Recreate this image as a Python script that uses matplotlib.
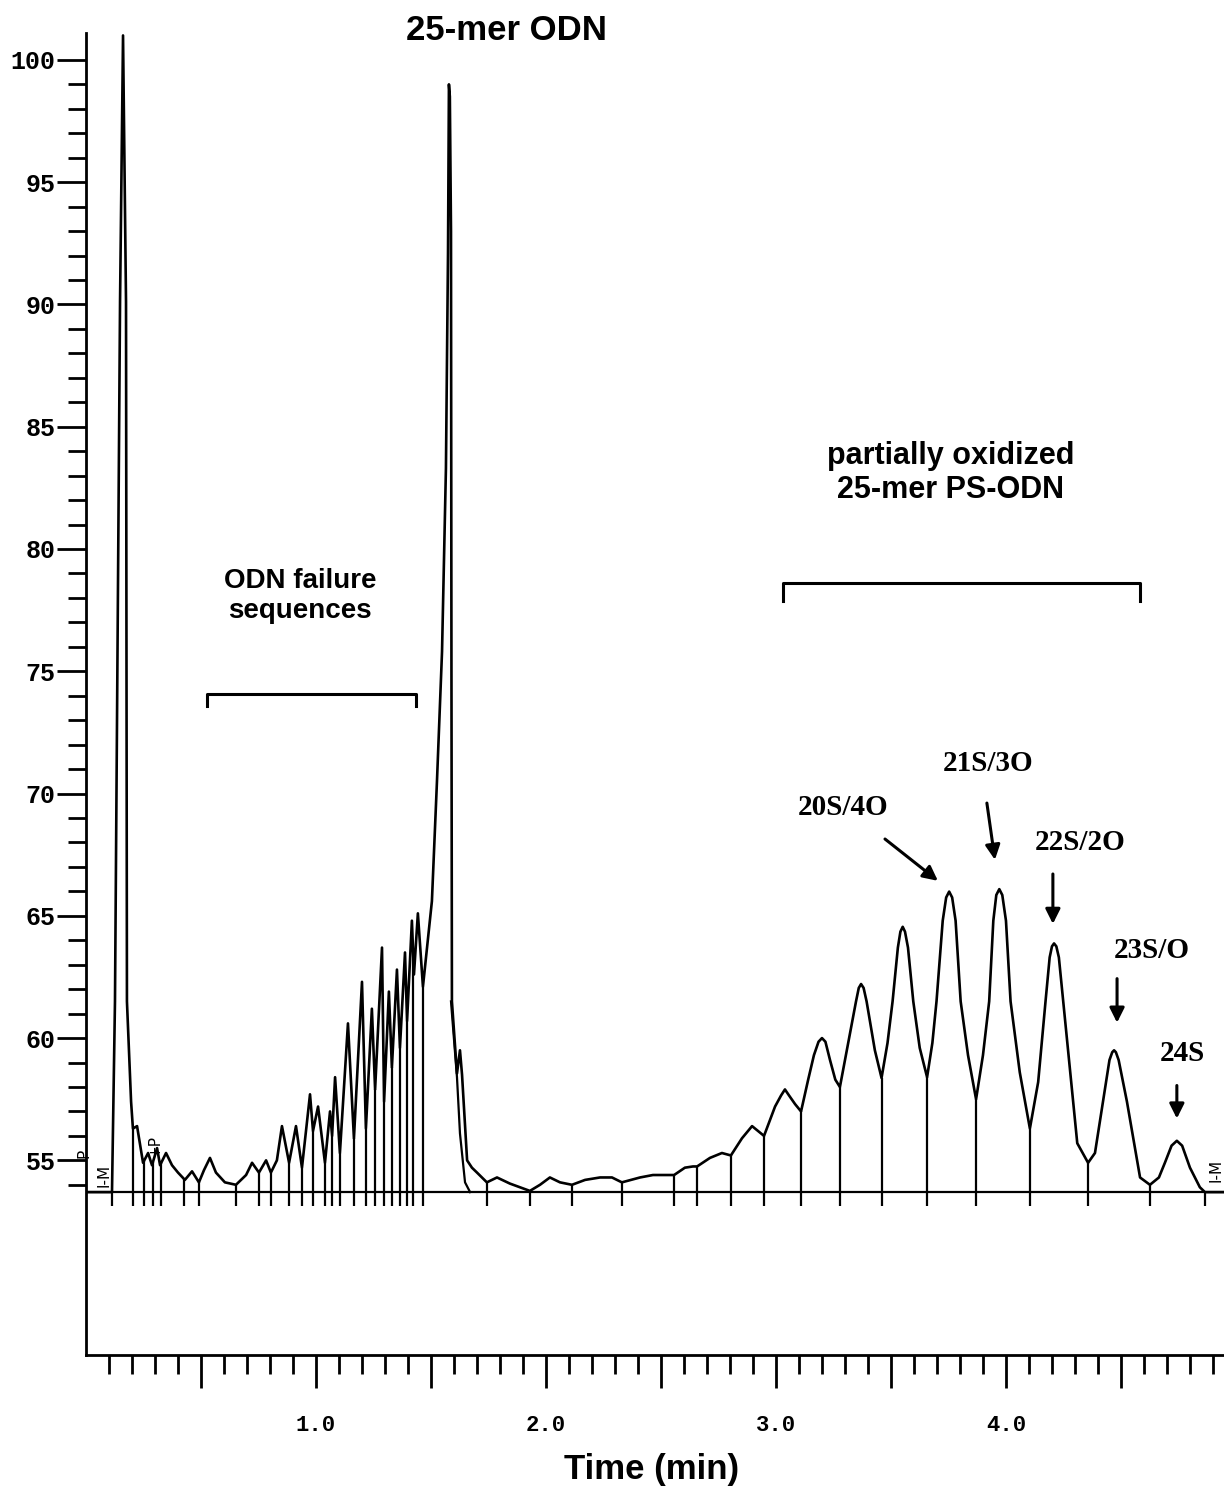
import matplotlib.pyplot as plt
import numpy as np

# chromatogram trace: time (min) and detector signal
time = [0.000, 0.113, 0.126, 0.148, 0.161, 0.174, 0.178, 0.196, 0.204, 0.222,
        0.248, 0.270, 0.287, 0.309, 0.322, 0.348, 0.374, 0.400, 0.430, 0.461,
        0.491, 0.513, 0.539, 0.565, 0.604, 0.652, 0.696, 0.722, 0.752, 0.783,
        0.804, 0.830, 0.852, 0.883, 0.913, 0.939, 0.974, 0.987, 1.009, 1.039,
        1.061, 1.070, 1.083, 1.104, 1.139, 1.165, 1.200, 1.217, 1.243, 1.257,
        1.287, 1.296, 1.317, 1.330, 1.352, 1.365, 1.387, 1.396, 1.417, 1.426,
        1.443, 1.465, 1.504, 1.526, 1.548, 1.565, 1.574, 1.578, 1.582, 1.587,
        1.589, 1.591, 1.613, 1.626, 1.635, 1.657, 1.678, 1.700, 1.743, 1.787,
        1.843, 1.930, 1.974, 2.017, 2.061, 2.113, 2.170, 2.235, 2.287, 2.330,
        2.409, 2.465, 2.557, 2.604, 2.639, 2.657, 2.713, 2.765, 2.804, 2.852,
        2.896, 2.922, 2.948, 2.996, 3.022, 3.039, 3.057, 3.083, 3.109, 3.140,
        3.165, 3.185, 3.200, 3.215, 3.235, 3.258, 3.278, 3.310, 3.348, 3.360,
        3.370, 3.381, 3.394, 3.430, 3.459, 3.485, 3.507, 3.530, 3.541, 3.551,
        3.561, 3.574, 3.597, 3.625, 3.657, 3.680, 3.698, 3.725, 3.740, 3.753,
        3.766, 3.781, 3.803, 3.835, 3.870, 3.900, 3.927, 3.945, 3.958, 3.971,
        3.984, 4.000, 4.020, 4.060, 4.104, 4.140, 4.172, 4.190, 4.200, 4.209,
        4.219, 4.230, 4.249, 4.310, 4.357, 4.387, 4.422, 4.450, 4.462, 4.470,
        4.478, 4.490, 4.526, 4.583, 4.626, 4.665, 4.691, 4.720, 4.743, 4.766,
        4.800, 4.843, 4.865, 4.948]
signal = [53.7, 53.7, 61.5, 90.1, 101.0, 90.1, 61.5, 57.4, 56.3, 56.4,
          54.9, 55.3, 54.8, 55.5, 54.8, 55.3, 54.8, 54.5, 54.2, 54.55,
          54.1, 54.6, 55.1, 54.5, 54.1, 54.0, 54.4, 54.9, 54.5, 55.0,
          54.5, 55.0, 56.4, 54.9, 56.4, 54.7, 57.7, 56.2, 57.2, 54.9,
          57.0, 56.0, 58.4, 55.3, 60.6, 55.9, 62.3, 56.3, 61.2, 57.9,
          63.7, 57.4, 61.9, 58.8, 62.8, 59.6, 63.5, 60.7, 64.8, 62.6,
          65.1, 62.1, 65.6, 70.5, 75.8, 83.3, 92.1, 99.0, 98.5, 93.0,
          75.0, 61.5, 58.55, 59.5, 58.5, 55.0, 54.7, 54.5, 54.1, 54.3,
          54.05, 53.75, 54.0, 54.3, 54.1, 54.0, 54.2, 54.3, 54.3, 54.1,
          54.3, 54.4, 54.4, 54.7, 54.75, 54.75, 55.1, 55.3, 55.2, 55.9,
          56.4, 56.2, 56.0, 57.2, 57.65, 57.9, 57.65, 57.3, 57.0, 58.3,
          59.3, 59.85, 60.0, 59.85, 59.1, 58.3, 58.0, 59.6, 61.5, 62.05,
          62.21, 62.05, 61.5, 59.5, 58.37, 59.8, 61.5, 63.7, 64.35, 64.55,
          64.35, 63.7, 61.5, 59.6, 58.4, 59.8, 61.5, 64.8, 65.75, 65.99,
          65.75, 64.8, 61.5, 59.3, 57.5, 59.3, 61.5, 64.8, 65.85, 66.09,
          65.85, 64.8, 61.5, 58.6, 56.3, 58.2, 61.5, 63.3, 63.75, 63.87,
          63.75, 63.3, 61.5, 55.7, 54.9, 55.3, 57.4, 59.1, 59.42, 59.5,
          59.42, 59.1, 57.4, 54.3, 54.0, 54.3, 54.9, 55.6, 55.8, 55.6,
          54.7, 53.9, 53.7, 53.7]

# tangent skim under the tail of the 25-mer peak
skim_time = [1.587, 1.613, 1.626, 1.648, 1.670]
skim_signal = [61.5, 58.4, 56.1, 54.1, 53.7]

# integration drop lines
drop_times = [0.113, 0.204, 0.252, 0.291, 0.326, 0.426, 0.491, 0.652, 0.752, 0.804,
              0.883, 0.939, 0.987, 1.039, 1.070, 1.104, 1.165, 1.217, 1.257, 1.296,
              1.330, 1.365, 1.396, 1.422, 1.465, 1.743, 1.930, 2.113, 2.330, 2.557,
              2.657, 2.804, 2.948, 3.109, 3.278, 3.459, 3.657, 3.870, 4.104, 4.357,
              4.626, 4.865]
baseline = 53.7

peak_labels = ['20S/4O', '21S/3O', '22S/2O', '23S/O', '24S']
label_t = [3.291, 3.922, 4.322, 4.635, 4.765]
label_v = [69.41, 71.24, 67.98, 63.57, 59.37]
arrow_t0 = [3.474, 3.917, 4.204, 4.483, 4.743]
arrow_v0 = [68.14, 69.61, 66.71, 62.43, 58.06]
arrow_t1 = [3.704, 3.952, 4.204, 4.483, 4.743]
arrow_v1 = [66.43, 67.29, 64.67, 60.63, 56.71]

fig = plt.figure(figsize=(12.24, 14.90), dpi=100)
ax = fig.add_axes([86 / 1224, 135 / 1490, 1138 / 1224, 1322 / 1490])

ax.plot(time, signal, color='black', lw=1.9, solid_joinstyle='round')
ax.plot(skim_time, skim_signal, color='black', lw=1.6)
ax.axhline(baseline, color='black', lw=1.6)
drop_top = np.interp(drop_times, time, signal)
ax.vlines(drop_times, 53.15, drop_top, color='black', lw=1.6)

ax.set_xlim(0, 4.948)
ax.set_ylim(47.04, 101.1)
for s in ['top', 'right']:
    ax.spines[s].set_visible(False)
for s in ['left', 'bottom']:
    ax.spines[s].set_linewidth(2.0)

ax.set_yticks(range(55, 101, 5))
ax.set_yticks([v for v in range(54, 101) if v % 5], minor=True)
ax.set_xticks([0.5 * i for i in range(1, 10)])
ax.set_xticklabels(['1.0' if i == 2 else '2.0' if i == 4 else '3.0' if i == 6
                    else '4.0' if i == 8 else '' for i in range(1, 10)])
ax.set_xticks([i / 10 for i in range(1, 50) if i % 5], minor=True)
ax.tick_params(axis='y', which='major', length=21, width=2, pad=1, labelsize=18)
ax.tick_params(axis='y', which='minor', length=13, width=2)
ax.tick_params(axis='x', which='major', length=24, width=2, pad=19, labelsize=16)
ax.tick_params(axis='x', which='minor', length=14, width=2)
for lab in ax.get_xticklabels() + ax.get_yticklabels():
    lab.set_fontfamily('Liberation Mono')
    lab.set_fontweight('bold')

sans = dict(family='Liberation Sans', weight='bold', ha='center', va='center', clip_on=False)
ax.text(1.830, 101.2, '25-mer ODN', fontsize=25, **sans)
ax.text(0.930, 78.06, 'ODN failure\nsequences', fontsize=20, linespacing=1.2, **sans)
ax.text(3.761, 83.1, 'partially oxidized\n25-mer PS-ODN', fontsize=22, linespacing=1.2, **sans)
ax.text(2.461, 42.35, 'Time (min)', fontsize=25, **sans)

# brackets over the two groups
ax.plot([0.526, 0.526, 1.435, 1.435], [73.57, 74.06, 74.06, 73.57], color='black', lw=2.2)
ax.plot([3.030, 3.030, 4.583, 4.583], [77.86, 78.6, 78.6, 77.86], color='black', lw=2.2)

for lab, tx, ty, x0, y0, x1, y1 in zip(peak_labels, label_t, label_v,
                                       arrow_t0, arrow_v0, arrow_t1, arrow_v1):
    ax.text(tx, ty, lab, fontsize=21, family='Liberation Serif', weight='bold',
            ha='center', va='center')
    ax.annotate('', xy=(x1, y1), xytext=(x0, y0),
                arrowprops=dict(arrowstyle='-|>', color='black', lw=2.2,
                                mutation_scale=22, shrinkA=0, shrinkB=0))

# integration event marks
mark = dict(fontsize=11, rotation=90, ha='center', va='center', clip_on=False)
ax.text(-0.010, 55.3, 'P', **mark)
ax.text(0.080, 54.4, 'I-M', **mark)
ax.text(0.300, 55.6, '+P', **mark)
ax.text(4.915, 54.6, 'I-M', **mark)

fig.savefig('out.png', dpi=100)
